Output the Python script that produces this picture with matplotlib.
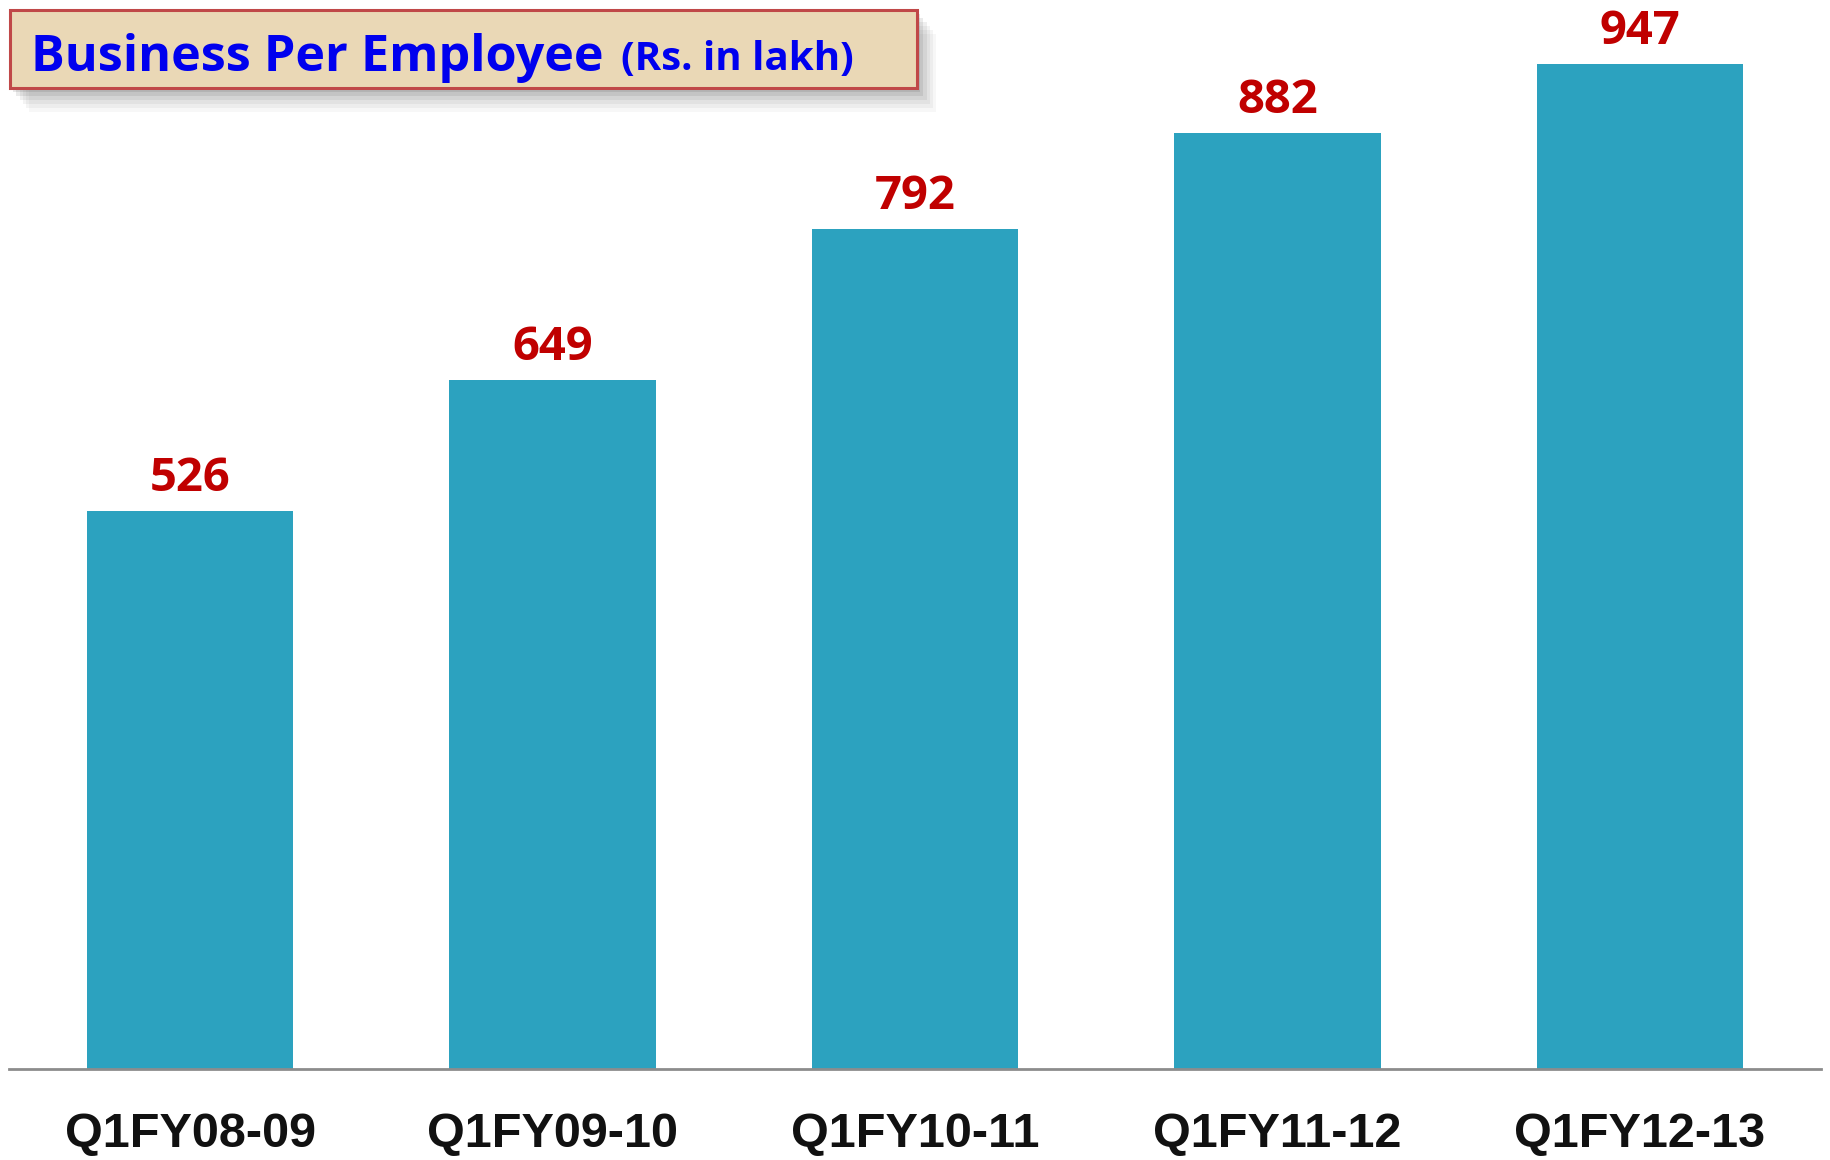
import matplotlib
matplotlib.use('Agg')
import matplotlib.pyplot as plt
from matplotlib.patches import Rectangle
import numpy as np

# data
quarters = ['Q1FY08-09', 'Q1FY09-10', 'Q1FY10-11', 'Q1FY11-12', 'Q1FY12-13']
business_per_emp = [526, 649, 792, 882, 947]

W, H = 1830, 1160
fig = plt.figure(figsize=(W / 100, H / 100), dpi=100)

# axes placed in pixel terms: baseline at y=1069, spans x 9..1821
ax = fig.add_axes([9 / W, 91 / H, (1821 - 9) / W, 1069 / H])
x = np.arange(len(quarters))
bars = ax.bar(x, business_per_emp, width=0.57, color='#2CA2BF', zorder=2)
ax.set_xlim(-0.5, len(quarters) - 0.5)
ax.set_ylim(0, 1007.5)

for b, v in zip(bars, business_per_emp):
    ax.annotate(str(v), (b.get_x() + b.get_width() / 2, v),
                xytext=(0, 14.4), textcoords='offset points',
                ha='center', va='baseline', fontsize=34, fontweight='bold',
                color='#C00000', family='Open Sans')

ax.set_xticks(x)
ax.set_xticklabels(quarters, fontsize=35, fontweight='bold',
                   family='Liberation Sans', color='#111111')
ax.tick_params(axis='x', length=0, pad=31)
ax.set_yticks([])
for s in ['top', 'left', 'right']:
    ax.spines[s].set_visible(False)
ax.spines['bottom'].set_color('#8c8c8c')
ax.spines['bottom'].set_linewidth(2)

# title box with a soft shadow
bx0, by0, bx1, by1 = 10, 10, 917, 88
for i, a in enumerate([0.04, 0.05, 0.06, 0.08, 0.10, 0.12]):
    off = 24 - i * 4
    fig.patches.append(Rectangle(((bx0 + off * 0.8) / W, 1 - (by1 + off) / H),
                                 (bx1 - bx0) / W, (by1 - by0) / H,
                                 transform=fig.transFigure, facecolor='#3a3a3a',
                                 edgecolor='none', alpha=a, zorder=1))
fig.patches.append(Rectangle((bx0 / W, 1 - by1 / H), (bx1 - bx0) / W, (by1 - by0) / H,
                             transform=fig.transFigure, facecolor='#EAD8B6',
                             edgecolor='#C04848', linewidth=2.2, zorder=2))

fig.text(31 / W, 1 - 71 / H, 'Business Per Employee', fontsize=36.3,
         fontweight='bold', color='#0000EE', ha='left', va='baseline',
         family='Open Sans', zorder=3)
fig.text(621 / W, 1 - 70 / H, '(Rs. in lakh)', fontsize=29,
         fontweight='bold', color='#0000EE', ha='left', va='baseline',
         family='Open Sans', zorder=3)

fig.savefig('out.png', dpi=100)
